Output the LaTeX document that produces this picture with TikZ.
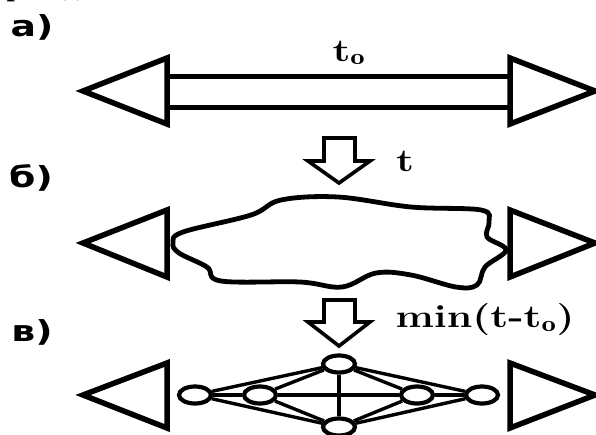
\documentclass[tikz,border=0pt]{standalone}
\usepackage{fontspec}
\usetikzlibrary{shapes.geometric}
\newfontfamily\labfont{DejaVu Sans}
\newfontfamily\capfont{Liberation Serif}

\newcommand*{\barL}{167}
\newcommand*{\barR}{510}
\newcommand*{\tipL}{83}
\newcommand*{\tipR}{595}

\begin{document}
\begin{tikzpicture}
[
	x=1pt,y=-1pt,
	tri/.style={line width=5.5pt,line join=miter},
	rod/.style={line width=5pt},
	hollow/.style={line width=3.6pt,line join=miter},
	blob/.style={line width=4.8pt},
	vtx/.style={ellipse,draw,line width=4.2pt,fill=white,inner sep=0pt,minimum width=32pt,minimum height=17pt},
	edge/.style={line width=3.4pt},
	rowlab/.style={font=\labfont\bfseries\fontsize{29}{29}\selectfont,xscale=1.3},
	tlab/.style={font=\bfseries\fontsize{32}{32}\selectfont,xscale=1.28}
]

	\useasboundingbox (0,0) rectangle (596,434);
	\clip (0,0) rectangle (596,434);

	% cut-off line of text above
	\node[anchor=base east,font=\capfont\bfseries\fontsize{30}{30}\selectfont,inner sep=0pt] (cap) at (300,-5) {перехода в состояние t1.};

	% row labels
	\node[rowlab] (la) at (32,27) {а)};
	\node[rowlab] (lb) at (31,178) {б)};
	\node[rowlab] (lc) at (32,332) {в)};

	% a) rod between two ends
	\draw[tri] (\barL,58) -- (\tipL,91) -- (\barL,124) -- cycle;
	\draw[tri] (\barR,58) -- (\tipR,91) -- (\barR,124) -- cycle;
	\draw[rod] (\barL,76) -- (\barR,76);
	\draw[rod] (\barL,107) -- (\barR,107);
	\node[tlab] (t0) at (349,53) {t$_\mathbf{o}$};

	% arrow a) -> b)
	\draw[hollow] (324,138) -- (355,138) -- (355,161) -- (370,161) -- (339,183) -- (308,161) -- (324,161) -- cycle;
	\node[tlab] (t) at (405,161) {t};

	% b) blob
	\draw[tri] (\barL,210) -- (\tipL,243) -- (\barL,277) -- cycle;
	\draw[tri] (\barR,210) -- (\tipR,243) -- (\barR,277) -- cycle;
	\draw[blob] plot[smooth cycle,tension=0.6] coordinates {(173,243) (183,232) (251,215) (281,200) (338,197) (411,207) (481,210) (489,222) (487,237) (506,250) (485,267) (477,285) (456,287) (411,275) (376,273) (342,287) (300,282) (221,281) (207,267) (179,253)};

	% arrow b) -> c)
	\draw[hollow] (324,300) -- (355,300) -- (355,322) -- (370,322) -- (339,346) -- (308,322) -- (324,322) -- cycle;
	\node[tlab] (tmin) at (485,320) {min(t-t$_\mathbf{o}$)};

	% c) network
	\draw[tri] (\barL,363) -- (\tipL,395) -- (\barL,428) -- cycle;
	\draw[tri] (\barR,363) -- (\tipR,395) -- (\barR,428) -- cycle;

	\node[vtx] (top) at (339,364) {};
	\node[vtx] (lo) at (195,395) {};
	\node[vtx] (li) at (260,395) {};
	\node[vtx] (ri) at (417,395) {};
	\node[vtx] (ro) at (482,395) {};
	\node[vtx] (bot) at (339,427) {};

	\foreach \v in {lo,li,ri,ro}
		\draw[edge] (top) -- (\v) (bot) -- (\v);
	\draw[edge] (top) -- (bot);
	\draw[edge] (lo) -- (li) -- (ri) -- (ro);

\end{tikzpicture}
\end{document}
